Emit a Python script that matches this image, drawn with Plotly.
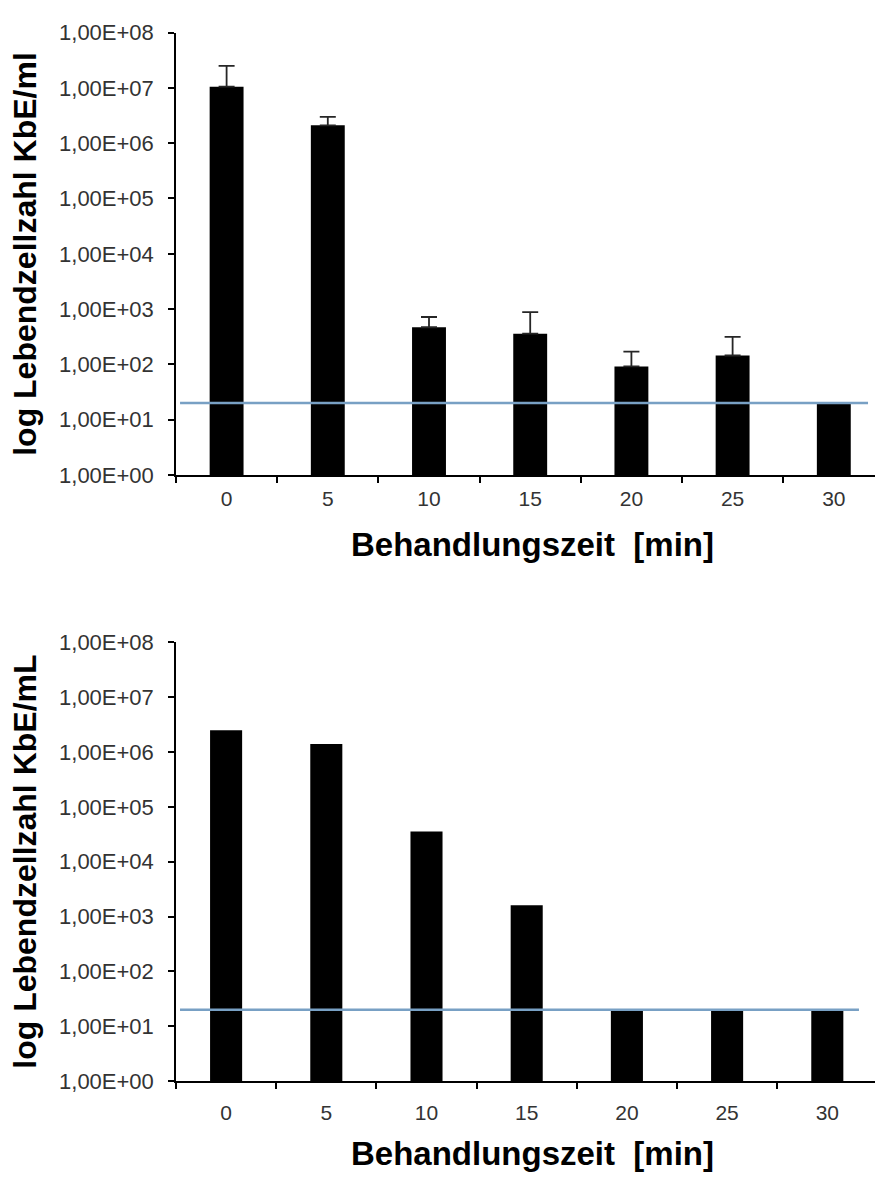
import plotly.graph_objects as go

# Behandlungszeit in Minuten (Kategorien)
minutes = ["0", "5", "10", "15", "20", "25", "30"]

# Versuch 1: Lebendzellzahl (KbE/ml) mit Standardabweichung (nur nach oben)
kbe_a = [1.05e7, 2.1e6, 470, 360, 92, 145, 20]
kbe_a_err = [1.45e7, 9.0e5, 250, 520, 78, 170, None]

# Versuch 2: Lebendzellzahl (KbE/mL)
kbe_b = [2.5e6, 1.4e6, 3.55e4, 1.6e3, 20, 20, 20]

# Nachweisgrenze
nachweisgrenze = 20

W, H = 875, 1187
FONT = "Liberation Sans, Arial, sans-serif"
xpos = list(range(len(minutes)))


def px_x(p):
    return p / W


def px_y(p):
    return 1 - p / H


fig = go.Figure()

fig.add_trace(go.Bar(
    x=xpos, y=kbe_a, width=0.335,
    marker=dict(color="black", line=dict(width=0)),
    error_y=dict(type="data", symmetric=False, array=kbe_a_err,
                 arrayminus=[0] * len(kbe_a), color="#262626",
                 thickness=1.8, width=8),
    xaxis="x", yaxis="y",
))
fig.add_trace(go.Scatter(
    x=[-0.46, 6.338], y=[nachweisgrenze, nachweisgrenze], mode="lines",
    line=dict(color="#78a0c4", width=2.5),
    xaxis="x", yaxis="y",
))

fig.add_trace(go.Bar(
    x=xpos, y=kbe_b, width=0.32,
    marker=dict(color="black", line=dict(width=0)),
    xaxis="x2", yaxis="y2",
))
fig.add_trace(go.Scatter(
    x=[-0.46, 6.316], y=[nachweisgrenze, nachweisgrenze], mode="lines",
    line=dict(color="#78a0c4", width=2.5),
    xaxis="x2", yaxis="y2",
))

log_vals = [10 ** i for i in range(9)]
log_text = ["1,00E+%02d" % i for i in range(9)]

common_x = dict(
    tickmode="array", tickvals=xpos, ticktext=minutes, ticks="",
    showline=True, linecolor="black", linewidth=1.5,
    showgrid=False, zeroline=False,
    tickfont=dict(family=FONT, size=21, color="#333333"),
    minor=dict(tickmode="linear", tick0=-0.5, dtick=1, ticks="outside",
               ticklen=6, tickwidth=1.5, tickcolor="black", showgrid=False),
)
common_y = dict(
    type="log", range=[0, 8], tickmode="array", tickvals=log_vals,
    ticktext=log_text, ticks="outside", ticklen=6, tickwidth=1.5,
    tickcolor="black", showline=True, linecolor="black", linewidth=1.5,
    showgrid=False, zeroline=False, ticklabelstandoff=10,
    tickfont=dict(family=FONT, size=22, color="#333333"),
)

fig.update_layout(
    width=W, height=H,
    margin=dict(l=0, r=0, t=0, b=0),
    paper_bgcolor="white", plot_bgcolor="white",
    showlegend=False,
    xaxis=dict(common_x, domain=[px_x(176), 1], range=[-0.5, 6.407],
               anchor="y", ticklabelstandoff=4),
    yaxis=dict(common_y, domain=[px_y(473), px_y(21)], anchor="x"),
    xaxis2=dict(common_x, domain=[px_x(176), 1], range=[-0.5, 6.476],
                anchor="y2", ticklabelstandoff=12),
    yaxis2=dict(common_y, domain=[px_y(1092), px_y(644)], anchor="x2"),
)

title_font = dict(family=FONT, size=33, color="black")
ytitle_font = dict(family=FONT, size=32, color="black")
annotations = [
    dict(text="<b>Behandlungszeit\u00a0 [min]</b>", x=px_x(532), y=px_y(544),
         font=title_font),
    dict(text="<b>Behandlungszeit\u00a0 [min]</b>", x=px_x(532), y=px_y(1166),
         font=title_font),
    dict(text="<b>log Lebendzellzahl KbE/ml</b>", x=px_x(25), y=px_y(247),
         textangle=-90, font=ytitle_font),
    dict(text="<b>log Lebendzellzahl KbE/mL</b>", x=px_x(25), y=px_y(868),
         textangle=-90, font=ytitle_font),
]
for a in annotations:
    a.update(xref="paper", yref="paper", showarrow=False,
             xanchor="center", yanchor="middle")
fig.update_layout(annotations=annotations)

fig.write_html("out.html")
